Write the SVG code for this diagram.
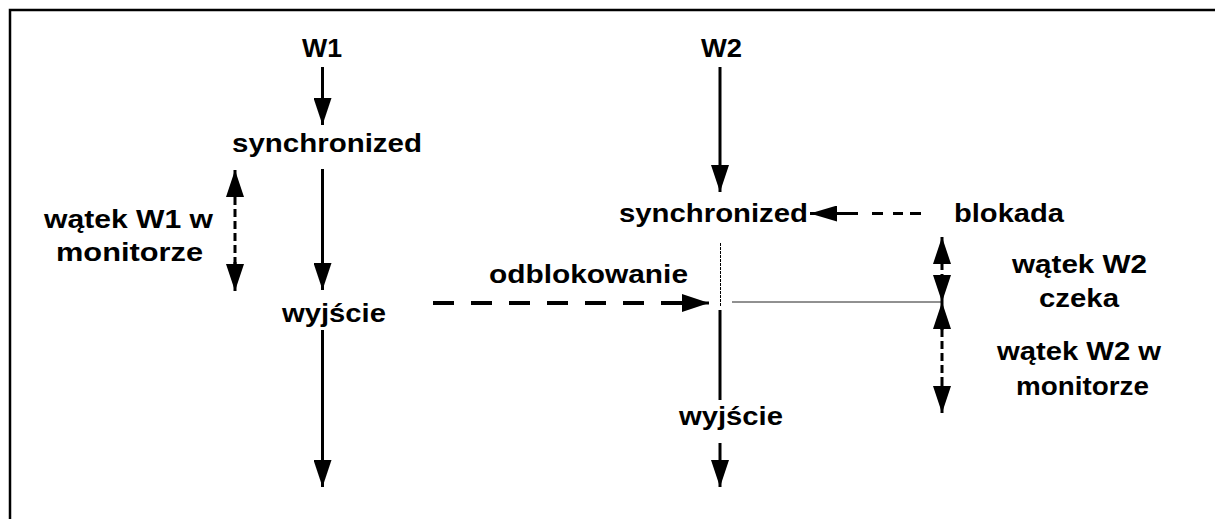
<svg xmlns="http://www.w3.org/2000/svg" width="1215" height="519" viewBox="0 0 1215 519">
<style>
text{font-family:"Liberation Sans",Arial,sans-serif;font-weight:bold;font-size:25px;fill:#000}
.s{stroke:#000;stroke-width:3;fill:none}
.d{stroke:#000;stroke-width:3;fill:none;stroke-dasharray:8 4}
.ld{stroke:#000;stroke-width:4;fill:none;stroke-dasharray:21 17}
.t{stroke:#000;stroke-width:1;fill:none;stroke-dasharray:3 1}
.th{stroke:#222;stroke-width:1;fill:none}
</style>
<defs>
<marker id="ah" markerUnits="userSpaceOnUse" viewBox="0 0 27 18" refX="27" refY="9" markerWidth="27" markerHeight="18" orient="auto-start-reverse">
<path d="M0,0 L27,9 L0,18 Z" fill="#000"/>
</marker>
<marker id="ah2" markerUnits="userSpaceOnUse" viewBox="0 0 27 16" refX="27" refY="8" markerWidth="27" markerHeight="16" orient="auto-start-reverse">
<path d="M0,0 L27,8 L0,16 Z" fill="#000"/>
</marker>
</defs>
<path d="M10,519 V10 H1215" fill="none" stroke="#000" stroke-width="2.5"/>
<g id="connectors">
<line class="s" x1="322.5" y1="67" x2="322.5" y2="125" marker-end="url(#ah)"/>
<line class="s" x1="322.5" y1="169" x2="322.5" y2="290" marker-end="url(#ah)"/>
<line class="s" x1="322.5" y1="330" x2="322.5" y2="487" marker-end="url(#ah)"/>
<line class="s" x1="235" y1="197" x2="235" y2="170" marker-end="url(#ah)"/>
<line class="d" x1="235" y1="197" x2="235" y2="264"/>
<line class="s" x1="235" y1="262" x2="235" y2="291" marker-end="url(#ah)"/>
<line class="s" x1="720" y1="67" x2="720" y2="192" marker-end="url(#ah)"/>
<line class="t" x1="720.5" y1="243" x2="720.5" y2="307"/>
<line class="s" x1="720" y1="310" x2="720" y2="400"/>
<line class="s" x1="720" y1="443" x2="720" y2="487" marker-end="url(#ah)"/>
<line class="ld" x1="433" y1="303" x2="690" y2="303"/>
<line class="s" x1="682" y1="303" x2="709" y2="303" marker-end="url(#ah)"/>
<line class="s" x1="858" y1="213.5" x2="810" y2="213.5" marker-end="url(#ah2)"/>
<path class="s" d="M872,213.5 H883 M893,213.5 H903 M910,213.5 H921"/>
<line class="th" x1="732" y1="302" x2="942" y2="302"/>
<line class="s" x1="942" y1="263" x2="942" y2="237" marker-end="url(#ah)"/>
<line class="d" x1="942" y1="262" x2="942" y2="276"/>
<line class="s" x1="942" y1="275" x2="942" y2="302" marker-end="url(#ah)"/>
<line class="s" x1="942" y1="330" x2="942" y2="302" marker-end="url(#ah)"/>
<line class="d" x1="942" y1="329" x2="942" y2="386"/>
<line class="s" x1="942" y1="385" x2="942" y2="413" marker-end="url(#ah)"/>
</g>
<g id="w1"><text x="302" y="57" textLength="40" lengthAdjust="spacingAndGlyphs">W1</text></g>
<g id="w2"><text x="701" y="57" textLength="41" lengthAdjust="spacingAndGlyphs">W2</text></g>
<g id="sync1"><text x="232" y="152" textLength="190" lengthAdjust="spacingAndGlyphs">synchronized</text></g>
<g id="sync2"><text x="619" y="222" textLength="189" lengthAdjust="spacingAndGlyphs">synchronized</text></g>
<g id="blokada"><text x="954" y="222" textLength="110" lengthAdjust="spacingAndGlyphs">blokada</text></g>
<g id="watek1">
<text x="44" y="228" textLength="169" lengthAdjust="spacingAndGlyphs">wątek W1 w</text>
<text x="56" y="261" textLength="147" lengthAdjust="spacingAndGlyphs">monitorze</text>
</g>
<g id="odblokowanie"><text x="489" y="283" textLength="199" lengthAdjust="spacingAndGlyphs">odblokowanie</text></g>
<g id="wyjscie1"><text x="282" y="322" textLength="104" lengthAdjust="spacingAndGlyphs">wyjście</text></g>
<g id="wyjscie2"><text x="679" y="425" textLength="104" lengthAdjust="spacingAndGlyphs">wyjście</text></g>
<g id="czeka">
<text x="1012" y="273" textLength="135" lengthAdjust="spacingAndGlyphs">wątek W2</text>
<text x="1039" y="307" textLength="80" lengthAdjust="spacingAndGlyphs">czeka</text>
</g>
<g id="watek2">
<text x="997" y="360" textLength="164" lengthAdjust="spacingAndGlyphs">wątek W2 w</text>
<text x="1016" y="395" textLength="133" lengthAdjust="spacingAndGlyphs">monitorze</text>
</g>
</svg>
